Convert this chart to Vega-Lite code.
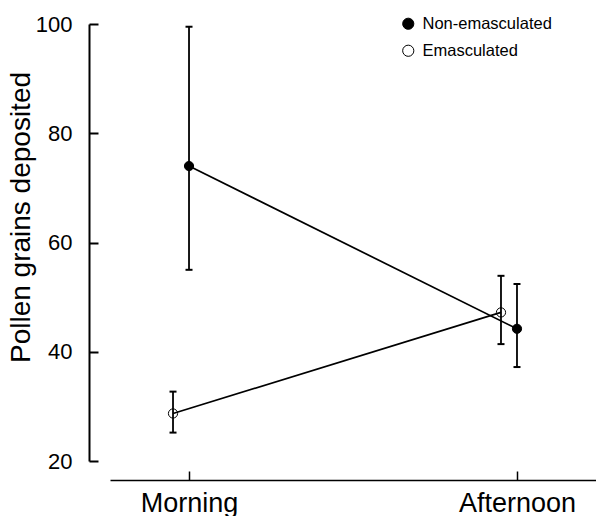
{
  "$schema": "https://vega.github.io/schema/vega-lite/v6.json",
  "width": 486,
  "height": 437,
  "autosize": {"type": "none"},
  "padding": {"left": 110, "top": 24, "right": 0, "bottom": 55},
  "background": "white",
  "config": {
    "font": "Liberation Sans",
    "view": {"stroke": null},
    "axis": {"grid": false, "domainColor": "black", "tickColor": "black", "labelColor": "black", "titleColor": "black"}
  },
  "data": {
    "values": [
      {"time": "Morning", "treatment": "Non-emasculated", "mean": 74.0, "lo": 55.0, "hi": 99.5},
      {"time": "Afternoon", "treatment": "Non-emasculated", "mean": 44.2, "lo": 37.2, "hi": 52.4},
      {"time": "Morning", "treatment": "Emasculated", "mean": 28.7, "lo": 25.2, "hi": 32.7},
      {"time": "Afternoon", "treatment": "Emasculated", "mean": 47.2, "lo": 41.4, "hi": 53.9}
    ]
  },
  "encoding": {
    "x": {
      "field": "time", "type": "nominal",
      "scale": {"type": "point", "domain": ["Morning", "Afternoon"], "padding": 0.2409},
      "axis": {"title": null, "offset": 19, "tickSize": -9, "tickWidth": 1.5, "domainWidth": 1.7, "labelFontSize": 27, "labelPadding": 19, "labelAngle": 0}
    },
    "xOffset": {
      "field": "treatment", "type": "nominal",
      "scale": {"type": "point", "domain": ["Emasculated", "Non-emasculated"], "range": [-16, 0], "padding": 0}
    }
  },
  "layer": [
    {
      "mark": {"type": "rule", "color": "black", "strokeWidth": 1.8},
      "encoding": {
        "y": {"field": "lo", "type": "quantitative"},
        "y2": {"field": "hi"}
      }
    },
    {
      "mark": {"type": "tick", "color": "black", "size": 7, "thickness": 2, "opacity": 1},
      "encoding": {"y": {"field": "lo", "type": "quantitative"}}
    },
    {
      "mark": {"type": "tick", "color": "black", "size": 7, "thickness": 2, "opacity": 1},
      "encoding": {"y": {"field": "hi", "type": "quantitative"}}
    },
    {
      "mark": {"type": "line", "color": "black", "strokeWidth": 1.7},
      "encoding": {
        "y": {"field": "mean", "type": "quantitative"},
        "detail": {"field": "treatment"}
      }
    },
    {
      "mark": {"type": "point", "shape": "circle", "stroke": "black", "strokeWidth": 1, "opacity": 1, "size": 85},
      "encoding": {
        "y": {
          "field": "mean", "type": "quantitative",
          "scale": {"domain": [20, 100], "nice": false, "zero": false},
          "axis": {"values": [20, 40, 60, 80, 100], "offset": 21, "tickSize": -9, "tickWidth": 2, "domainWidth": 2, "labelFontSize": 22, "labelPadding": 26, "title": "Pollen grains deposited", "titleFontSize": 28, "titleFontWeight": "normal", "titlePadding": 0, "titleY": 193}
        },
        "fill": {
          "field": "treatment", "type": "nominal",
          "scale": {"domain": ["Non-emasculated", "Emasculated"], "range": ["black", "transparent"]},
          "legend": {"orient": "none", "legendX": 290, "legendY": -8.5, "title": null, "symbolType": "circle", "symbolSize": 125, "symbolStrokeColor": "black", "symbolStrokeWidth": 1, "labelFontSize": 16.5, "labelColor": "black", "labelOffset": 6, "rowPadding": 10}
        }
      }
    }
  ]
}
